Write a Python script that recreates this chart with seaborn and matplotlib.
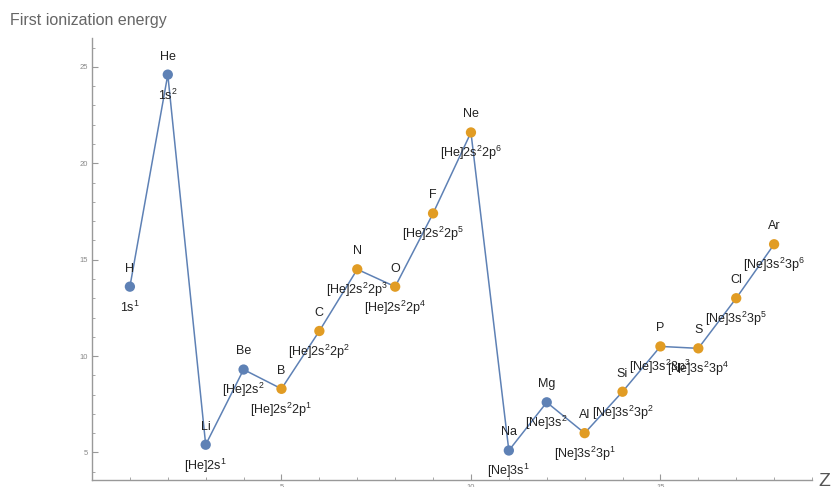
import numpy as np
import pandas as pd
import matplotlib
matplotlib.use("Agg")
import matplotlib.pyplot as plt
import seaborn as sns

# data: first ionization energy (eV) of elements Z = 1..18
z = list(range(1, 19))
symbols = ["H", "He", "Li", "Be", "B", "C", "N", "O", "F", "Ne",
           "Na", "Mg", "Al", "Si", "P", "S", "Cl", "Ar"]
energy = [13.6, 24.6, 5.4, 9.3, 8.3, 11.3, 14.5, 13.6, 17.4, 21.6,
          5.1, 7.6, 6.0, 8.15, 10.5, 10.4, 13.0, 15.8]
block = ["s", "s", "s", "s", "p", "p", "p", "p", "p", "p",
         "s", "s", "p", "p", "p", "p", "p", "p"]
configs = ["1s$^1$", "1s$^2$", "[He]2s$^1$", "[He]2s$^2$",
           "[He]2s$^2$2p$^1$", "[He]2s$^2$2p$^2$", "[He]2s$^2$2p$^3$",
           "[He]2s$^2$2p$^4$", "[He]2s$^2$2p$^5$", "[He]2s$^2$2p$^6$",
           "[Ne]3s$^1$", "[Ne]3s$^2$", "[Ne]3s$^2$3p$^1$", "[Ne]3s$^2$3p$^2$",
           "[Ne]3s$^2$3p$^3$", "[Ne]3s$^2$3p$^4$", "[Ne]3s$^2$3p$^5$",
           "[Ne]3s$^2$3p$^6$"]

df = pd.DataFrame({"Z": z, "E": energy, "block": block})

sns.set_theme(style="white")
plt.rcParams["font.family"] = ["Liberation Sans", "DejaVu Sans"]
plt.rcParams["mathtext.fontset"] = "custom"
plt.rcParams["mathtext.rm"] = "Liberation Sans"
plt.rcParams["mathtext.it"] = "Liberation Sans:italic"

blue = "#5E81B5"
orange = "#E19C24"
axis_grey = "#999999"

fig = plt.figure(figsize=(8.32, 4.87), dpi=100)
ax = fig.add_axes([92 / 832, 7 / 487, 720 / 832, 442 / 487])

sns.lineplot(data=df, x="Z", y="E", color=blue, linewidth=1.1, ax=ax, zorder=2)
sns.scatterplot(data=df, x="Z", y="E", hue="block",
                palette={"s": blue, "p": orange}, s=55, edgecolor="none",
                legend=False, ax=ax, zorder=3)

for xi, yi, sym, cfg in zip(z, energy, symbols, configs):
    ax.annotate(sym, (xi, yi), xytext=(0, 13), textcoords="offset points",
                ha="center", va="center", fontsize=9, color="#222222", zorder=4)
    ax.annotate(cfg, (xi, yi), xytext=(0, -15), textcoords="offset points",
                ha="center", va="center", fontsize=9, color="#222222", zorder=4)

ax.set_xlim(0, 19)
ax.set_ylim(3.57, 26.5)
ax.set_xlabel("")
ax.set_ylabel("")
ax.set_xticks([5, 10, 15])
ax.set_xticks(range(0, 20), minor=True)
ax.set_yticks([5, 10, 15, 20, 25])
ax.set_yticks(np.arange(4, 27), minor=True)

for side in ["top", "right"]:
    ax.spines[side].set_visible(False)
for side in ["left", "bottom"]:
    ax.spines[side].set_color(axis_grey)
    ax.spines[side].set_linewidth(1.0)

ax.tick_params(which="major", direction="in", length=4, width=0.8,
               color=axis_grey, labelsize=5.5, labelcolor="#888888", pad=3)
ax.tick_params(which="minor", direction="in", length=2.5, width=0.6,
               color=axis_grey)
ax.tick_params(axis="y", which="both", left=True)
ax.tick_params(axis="x", which="both", bottom=True)

fig.text(10 / 832, 1 - 21 / 487, "First ionization energy", fontsize=11.5,
         color="#666666", ha="left", va="center")
fig.text(818 / 832, 1 - 481 / 487, "Z", fontsize=14, color="#555555",
         ha="left", va="center")

fig.savefig("out.png", dpi=100)
